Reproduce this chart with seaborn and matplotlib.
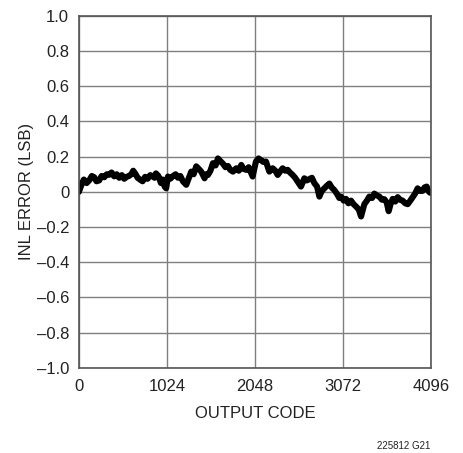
"""
INL error vs output code, redrawn with seaborn.
Values read by eye from the reference plot.
"""

import pandas as pd
import matplotlib
matplotlib.use("Agg")
import matplotlib.pyplot as plt
import seaborn as sns

# ----------------------------
# Data
# ----------------------------
codes = [0, 30, 58, 90, 120, 150, 178, 205, 236, 265, 295, 325, 353, 380,
         411, 440, 469, 500, 527, 555, 585, 610, 632, 660, 683, 710, 741,
         770, 799, 830, 857, 880, 896, 925, 954, 975, 997, 1015, 1036, 1065,
         1094, 1125, 1152, 1180, 1210, 1249, 1280, 1307, 1335, 1365, 1395,
         1423, 1462, 1480, 1501, 1530, 1559, 1590, 1617, 1645, 1676, 1705,
         1734, 1760, 1792, 1831, 1860, 1889, 1915, 1947, 1975, 2005, 2021,
         2040, 2059, 2090, 2118, 2145, 2176, 2215, 2254, 2285, 2312, 2340,
         2370, 2400, 2428, 2455, 2486, 2515, 2545, 2583, 2622, 2650, 2680,
         2710, 2738, 2770, 2797, 2825, 2855, 2885, 2913, 2940, 2971, 3000,
         3029, 3049, 3080, 3107, 3135, 3165, 3195, 3223, 3255, 3282, 3320,
         3350, 3378, 3410, 3436, 3465, 3495, 3525, 3553, 3580, 3603, 3625,
         3650, 3680, 3708, 3735, 3766, 3795, 3824, 3855, 3882, 3910, 3940,
         3970, 3998, 4020, 4045, 4065, 4084, 4096]
inl = [0.0, 0.04, 0.07, 0.05, 0.065, 0.09, 0.083, 0.06, 0.065, 0.09, 0.083,
       0.1, 0.097, 0.11, 0.088, 0.1, 0.08, 0.095, 0.074, 0.085, 0.091, 0.1,
       0.12, 0.1, 0.08, 0.07, 0.06, 0.085, 0.074, 0.095, 0.088, 0.08, 0.105,
       0.09, 0.05, 0.07, 0.03, 0.02, 0.087, 0.075, 0.09, 0.1, 0.08, 0.09,
       0.06, 0.04, 0.08, 0.115, 0.1, 0.145, 0.13, 0.115, 0.077, 0.1, 0.096,
       0.12, 0.163, 0.15, 0.19, 0.175, 0.16, 0.14, 0.147, 0.125, 0.115, 0.134,
       0.12, 0.153, 0.13, 0.125, 0.14, 0.106, 0.087, 0.13, 0.172, 0.19, 0.18,
       0.17, 0.172, 0.115, 0.134, 0.12, 0.096, 0.115, 0.134, 0.12, 0.125,
       0.11, 0.096, 0.08, 0.058, 0.03, 0.077, 0.065, 0.072, 0.08, 0.05, 0.03,
       -0.027, 0.005, 0.02, 0.035, 0.047, 0.025, 0.01, -0.01, -0.035, -0.027,
       -0.05, -0.04, -0.065, -0.05, -0.07, -0.083, -0.1, -0.14, -0.07, -0.05,
       -0.027, -0.035, -0.01, -0.02, -0.027, -0.045, -0.042, -0.06, -0.11,
       -0.07, -0.04, -0.055, -0.03, -0.045, -0.05, -0.065, -0.07, -0.05,
       -0.03, -0.01, 0.02, 0.005, 0.006, 0.025, 0.03, 0.005, -0.005, 0.0]

x_ticks = [0, 1024, 2048, 3072, 4096]
y_ticks = [-1.0, -0.8, -0.6, -0.4, -0.2, 0, 0.2, 0.4, 0.6, 0.8, 1.0]
y_labels = ["\u20131.0", "\u20130.8", "\u20130.6", "\u20130.4", "\u20130.2", "0",
            "0.2", "0.4", "0.6", "0.8", "1.0"]

df = pd.DataFrame({"code": codes, "inl": inl})

# ----------------------------
# Plot
# ----------------------------
sns.set_theme(style="whitegrid")
plt.rcParams["font.family"] = ["Liberation Sans", "DejaVu Sans"]

fig = plt.figure(figsize=(4.64, 4.53), dpi=100)
ax = fig.add_axes([0.170, 0.188, 0.759, 0.777])

sns.lineplot(data=df, x="code", y="inl", color="black", linewidth=4.4, ax=ax)

ax.set_xlim(0, 4096)
ax.set_ylim(-1.0, 1.0)
ax.set_xticks(x_ticks)
ax.set_xticklabels([str(t) for t in x_ticks])
ax.set_yticks(y_ticks)
ax.set_yticklabels(y_labels)
ax.tick_params(axis="x", labelsize=12, length=0, pad=8, colors="#222222")
ax.tick_params(axis="y", labelsize=12, length=0, pad=7, colors="#222222")

ax.grid(True, color="#7f7f7f", linewidth=1.0)
for sp in ax.spines.values():
    sp.set_color("#555555")
    sp.set_linewidth(1.2)

ax.set_xlabel("OUTPUT CODE", fontsize=12, color="#222222", labelpad=9)
ax.set_ylabel("INL ERROR (LSB)", fontsize=12, color="#222222", labelpad=2)

fig.text(0.927, 0.005, "225812 G21", fontsize=7, ha="right",
         va="bottom", color="#222222")

fig.savefig("out.png", dpi=100, facecolor="white")
plt.close(fig)
